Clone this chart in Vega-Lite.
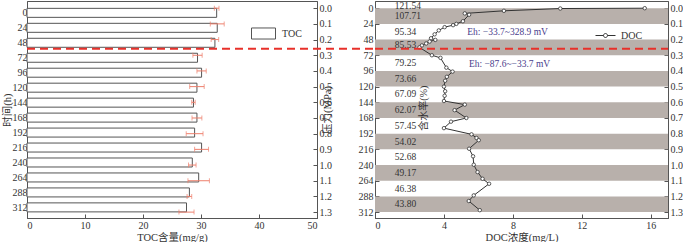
{
  "$schema": "https://vega.github.io/schema/vega-lite/v6.json",
  "padding": {"left": 1, "top": 0, "right": 0, "bottom": 0},
  "background": "white",
  "bounds": "flush",
  "spacing": 58,
  "resolve": {"legend": {"fill": "independent", "stroke": "independent"}},
  "config": {
    "font": "Liberation Serif, Noto Sans CJK SC",
    "view": {"stroke": "#555", "strokeWidth": 1},
    "axis": {
      "grid": false, "domainColor": "#555", "tickColor": "#555",
      "labelColor": "#333", "titleColor": "#333",
      "labelFont": "Liberation Serif, Noto Sans CJK SC",
      "titleFont": "Liberation Serif, Noto Sans CJK SC",
      "labelFontSize": 10, "titleFontSize": 10.5, "titleFontWeight": "normal",
      "tickSize": -4, "labelPadding": 6
    },
    "legend": {"labelFont": "Liberation Serif, Noto Sans CJK SC", "labelFontSize": 10, "labelColor": "#333"}
  },
  "datasets": {
    "toc": [
      {"hour": 0, "toc": 32.7, "err": 0.4},
      {"hour": 24, "toc": 32.8, "err": 1.2},
      {"hour": 48, "toc": 32.4, "err": 0.65},
      {"hour": 72, "toc": 29.4, "err": 0.8},
      {"hour": 96, "toc": 30.1, "err": 0.8},
      {"hour": 120, "toc": 29.3, "err": 1.25},
      {"hour": 144, "toc": 28.7, "err": 0.3},
      {"hour": 168, "toc": 29.3, "err": 0.85},
      {"hour": 192, "toc": 28.9, "err": 1.45},
      {"hour": 216, "toc": 30.1, "err": 1.2},
      {"hour": 240, "toc": 28.5, "err": 0.65},
      {"hour": 264, "toc": 29.6, "err": 1.85},
      {"hour": 288, "toc": 28.0, "err": 0.4},
      {"hour": 312, "toc": 27.5, "err": 1.3}
    ],
    "bands": [
      {"start": 0, "end": 24}, {"start": 48, "end": 72}, {"start": 96, "end": 120},
      {"start": 144, "end": 168}, {"start": 192, "end": 216}, {"start": 240, "end": 264},
      {"start": 288, "end": 312}
    ],
    "water": [
      {"hour": -4, "w": 121.54}, {"hour": 12, "w": 107.71}, {"hour": 36, "w": 95.34},
      {"hour": 57, "w": 85.53}, {"hour": 84, "w": 79.25}, {"hour": 108, "w": 73.66},
      {"hour": 132, "w": 67.09}, {"hour": 156, "w": 62.07}, {"hour": 180, "w": 57.45},
      {"hour": 204, "w": 54.02}, {"hour": 228, "w": 52.68}, {"hour": 252, "w": 49.17},
      {"hour": 276, "w": 46.38}, {"hour": 300, "w": 43.8}
    ],
    "doc": [
      {"hour": 0, "doc": 15.65}, {"hour": 0.5, "doc": 10.75}, {"hour": 4, "doc": 7.48},
      {"hour": 8, "doc": 5.21}, {"hour": 10, "doc": 5.46}, {"hour": 20, "doc": 5.1},
      {"hour": 24, "doc": 4.72}, {"hour": 26, "doc": 4.53}, {"hour": 29, "doc": 4.04},
      {"hour": 34, "doc": 3.7}, {"hour": 40, "doc": 3.46}, {"hour": 46, "doc": 3.25},
      {"hour": 48.5, "doc": 3.5}, {"hour": 51, "doc": 3.17}, {"hour": 54, "doc": 2.97},
      {"hour": 57, "doc": 2.72}, {"hour": 60, "doc": 2.58}, {"hour": 72, "doc": 3.3},
      {"hour": 76, "doc": 3.8}, {"hour": 91, "doc": 4.14}, {"hour": 97, "doc": 4.5},
      {"hour": 105, "doc": 4.17}, {"hour": 111, "doc": 4.07}, {"hour": 120, "doc": 4.0},
      {"hour": 127, "doc": 4.07}, {"hour": 134, "doc": 4.04}, {"hour": 142, "doc": 4.0},
      {"hour": 147.5, "doc": 5.21}, {"hour": 156, "doc": 4.62}, {"hour": 168, "doc": 5.3},
      {"hour": 173.6, "doc": 4.41}, {"hour": 183.5, "doc": 4.0}, {"hour": 193, "doc": 5.6},
      {"hour": 198.6, "doc": 5.89}, {"hour": 202, "doc": 6.02}, {"hour": 215, "doc": 5.46},
      {"hour": 226.6, "doc": 5.69}, {"hour": 239.5, "doc": 5.73}, {"hour": 250.7, "doc": 5.95},
      {"hour": 261, "doc": 6.24}, {"hour": 268.6, "doc": 6.62}, {"hour": 286.4, "doc": 5.73},
      {"hour": 295, "doc": 5.44}, {"hour": 309, "doc": 6.08}
    ],
    "one": [{}]
  },
  "hconcat": [
    {
      "width": 290,
      "height": 217,
      "layer": [
        {
          "data": {"name": "toc"},
          "mark": {"type": "bar", "orient": "horizontal", "size": 9, "stroke": "#555", "strokeWidth": 1},
          "encoding": {
            "y": {"field": "hour", "type": "quantitative",
                  "scale": {"domain": [-11, 321], "reverse": true, "nice": false, "zero": false},
                  "axis": {"orient": "left", "values": [0,24,48,72,96,120,144,168,192,216,240,264,288,312], "title": "时间(h)", "titlePadding": 0, "labelPadding": 4}},
            "x": {"field": "toc", "type": "quantitative", "title": "TOC含量(mg/g)",
                  "scale": {"domain": [0, 50], "nice": false},
                  "axis": {"values": [0,5,10,15,20,25,30,35,40,45,50], "title": "TOC含量(mg/g)", "titlePadding": 2}},
            "fill": {"datum": "TOC", "type": "nominal", "scale": {"range": ["white"]},
                     "legend": {"orient": "none", "legendX": 224, "legendY": 20, "title": null,
                                "symbolType": "M-1,-0.46H1V0.46H-1Z", "symbolSize": 576,
                                "symbolStrokeColor": "#555", "symbolStrokeWidth": 1, "labelOffset": 6}}
          }
        },
        {
          "data": {"name": "toc"},
          "mark": {"type": "errorbar", "ticks": {"size": 5}, "color": "#ee7f6c"},
          "encoding": {
            "y": {"field": "hour", "type": "quantitative",
                  "scale": {"domain": [-11, 321], "reverse": true, "nice": false, "zero": false}, "axis": null},
            "x": {"field": "toc", "type": "quantitative", "title": "TOC含量(mg/g)", "scale": {"domain": [0, 50], "nice": false}},
            "xError": {"field": "err"}
          }
        },
        {
          "data": {"name": "one"},
          "mark": {"type": "rule", "color": "#e8302a", "strokeDash": [8, 5], "strokeWidth": 2, "clip": false},
          "encoding": {
            "y": {"datum": 62, "type": "quantitative",
                  "scale": {"domain": [-11, 321], "reverse": true, "nice": false, "zero": false},
                  "axis": {"orient": "right", "values": [0,24,48,72,96,120,144,168,192,216,240,264,288,312],
                           "labelExpr": "format(datum.value/240, '.1f')", "title": "压力(MPa)", "titleAngle": 270, "titlePadding": 1}},
            "x": {"datum": 0, "type": "quantitative", "title": "TOC含量(mg/g)", "scale": {"domain": [0, 50], "nice": false}},
            "x2": {"datum": 60}
          }
        }
      ],
      "resolve": {"scale": {"y": "independent"}, "axis": {"y": "independent"}}
    },
    {
      "width": 293,
      "height": 217,
      "layer": [
        {
          "data": {"name": "bands"},
          "mark": {"type": "rect", "color": "#b8b0ab"},
          "encoding": {
            "y": {"field": "start", "type": "quantitative",
                  "scale": {"domain": [-11, 321], "reverse": true, "nice": false, "zero": false},
                  "axis": {"orient": "left", "values": [0,24,48,72,96,120,144,168,192,216,240,264,288,312], "title": null}},
            "y2": {"field": "end"},
            "x": {"datum": 0, "type": "quantitative", "title": "DOC浓度(mg/L)", "scale": {"domain": [0, 17], "nice": false},
                  "axis": {"values": [0,2,4,6,8,10,12,14,16], "title": "DOC浓度(mg/L)", "titlePadding": 2}},
            "x2": {"datum": 17}
          }
        },
        {
          "data": {"name": "water"},
          "mark": {"type": "text", "align": "left", "baseline": "middle", "fontSize": 9.5, "color": "#333"},
          "encoding": {
            "y": {"field": "hour", "type": "quantitative",
                  "scale": {"domain": [-11, 321], "reverse": true, "nice": false, "zero": false}, "axis": null},
            "x": {"datum": 1.15, "type": "quantitative"},
            "text": {"field": "w", "type": "quantitative", "format": ".2f"}
          }
        },
        {
          "data": {"name": "one"},
          "mark": {"type": "text", "angle": 270, "align": "center", "baseline": "middle", "fontSize": 10, "color": "#333"},
          "encoding": {
            "y": {"datum": 153, "type": "quantitative",
                  "scale": {"domain": [-11, 321], "reverse": true, "nice": false, "zero": false}, "axis": null},
            "x": {"datum": 2.87, "type": "quantitative"},
            "text": {"value": "含水率(%)"}
          }
        },
        {
          "data": {"name": "doc"},
          "mark": {"type": "line", "strokeWidth": 1,
                   "point": {"filled": true, "fill": "white", "size": 12, "strokeWidth": 0.8}},
          "encoding": {
            "y": {"field": "hour", "type": "quantitative",
                  "scale": {"domain": [-11, 321], "reverse": true, "nice": false, "zero": false}, "axis": null},
            "x": {"field": "doc", "type": "quantitative", "title": "DOC浓度(mg/L)"},
            "order": {"field": "hour"},
            "stroke": {"datum": "DOC", "type": "nominal", "scale": {"range": ["#333"]},
                       "legend": {"orient": "none", "legendX": 220, "legendY": 24, "title": null,
                                  "symbolType": "M-1,0H-0.2M0.2,0H1M-0.2,0A0.2,0.2,0,1,0,0.2,0A0.2,0.2,0,1,0,-0.2,0",
                                  "symbolSize": 400, "symbolFillColor": "white", "symbolStrokeWidth": 1, "labelOffset": 5}}
          }
        },
        {
          "data": {"name": "one"},
          "mark": {"type": "text", "align": "left", "baseline": "middle", "fontSize": 9.5, "color": "#4a3c8c"},
          "encoding": {
            "y": {"datum": 36, "type": "quantitative",
                  "scale": {"domain": [-11, 321], "reverse": true, "nice": false, "zero": false}, "axis": null},
            "x": {"datum": 5.35, "type": "quantitative"},
            "text": {"value": "Eh: −33.7~328.9 mV"}
          }
        },
        {
          "data": {"name": "one"},
          "mark": {"type": "text", "align": "left", "baseline": "middle", "fontSize": 9.5, "color": "#4a3c8c"},
          "encoding": {
            "y": {"datum": 85, "type": "quantitative",
                  "scale": {"domain": [-11, 321], "reverse": true, "nice": false, "zero": false}, "axis": null},
            "x": {"datum": 5.45, "type": "quantitative"},
            "text": {"value": "Eh: −87.6~−33.7 mV"}
          }
        },
        {
          "data": {"name": "one"},
          "mark": {"type": "rule", "color": "#e8302a", "strokeDash": [8, 5], "strokeWidth": 2},
          "encoding": {
            "y": {"datum": 62, "type": "quantitative",
                  "scale": {"domain": [-11, 321], "reverse": true, "nice": false, "zero": false},
                  "axis": {"orient": "right", "values": [0,24,48,72,96,120,144,168,192,216,240,264,288,312],
                           "labelExpr": "format(datum.value/240, '.1f')", "title": null}},
            "x": {"datum": 0, "type": "quantitative"},
            "x2": {"datum": 17}
          }
        }
      ],
      "resolve": {"scale": {"y": "independent"}, "axis": {"y": "independent"}}
    }
  ]
}
